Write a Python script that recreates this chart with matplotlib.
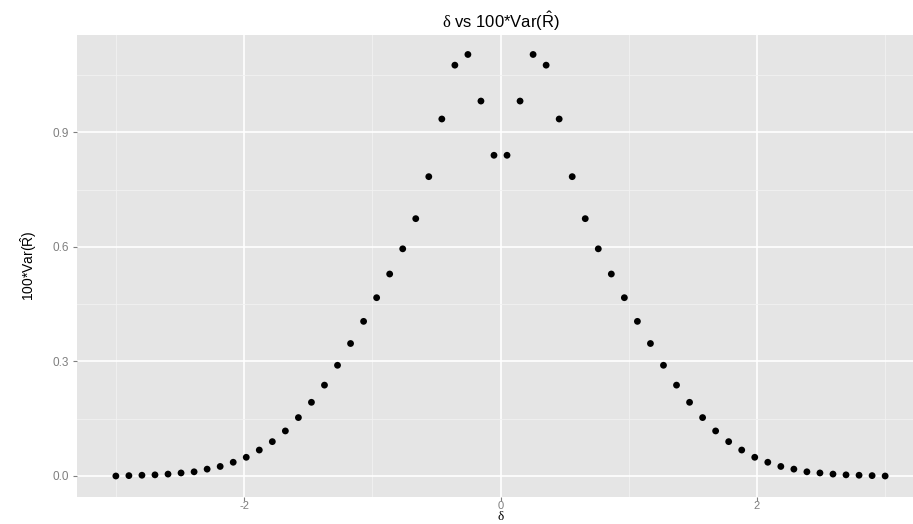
import matplotlib
matplotlib.use("Agg")
import matplotlib.pyplot as plt
import numpy as np

plt.rcParams['font.family'] = ['Liberation Sans', 'DejaVu Sans']
plt.rcParams['mathtext.fontset'] = 'custom'
plt.rcParams['mathtext.rm'] = 'Liberation Sans'
plt.rcParams['mathtext.it'] = 'Liberation Serif'
plt.rcParams['axes.unicode_minus'] = False

# delta grid: 60 points from -3 to 3
delta = np.linspace(-3, 3, 60)

# 100*Var(R hat)
var_left = [0.000, 0.001, 0.002, 0.003, 0.005, 0.008, 0.011, 0.018, 0.025, 0.036,
            0.049, 0.068, 0.090, 0.118, 0.153, 0.193, 0.238, 0.290, 0.347, 0.405,
            0.467, 0.529, 0.595, 0.674, 0.784, 0.935, 1.076, 1.104, 0.982, 0.840]
var_right = [0.840, 0.982, 1.104, 1.076, 0.935, 0.784, 0.674, 0.595, 0.529, 0.467,
             0.405, 0.347, 0.290, 0.238, 0.193, 0.153, 0.118, 0.090, 0.068, 0.049,
             0.036, 0.025, 0.018, 0.011, 0.008, 0.005, 0.003, 0.002, 0.001, 0.000]
var100 = np.array(var_left + var_right)

xticks = [-2, 0, 2]
xminor = [-3, -1, 1, 3]
yticks = [0.0, 0.3, 0.6, 0.9]
yminor = [0.15, 0.45, 0.75, 1.05]

fig = plt.figure(figsize=(9.13, 5.24), dpi=100)
# panel runs past the right edge, as in the reference
ax = fig.add_axes([77.4 / 913, 27 / 524, 846.2 / 913, 462 / 524])
ax.set_facecolor('#E5E5E5')
for s in ax.spines.values():
    s.set_visible(False)

ax.set_xlim(-3.3, 3.3)
ax.set_ylim(-0.055, 1.155)
ax.set_xticks(xticks)
ax.set_xticks(xminor, minor=True)
ax.set_yticks(yticks)
ax.set_yticks(yminor, minor=True)
ax.set_yticklabels(['0.0', '0.3', '0.6', '0.9'])
ax.grid(which='major', color='white', linewidth=1.2)
ax.grid(which='minor', color='#F2F2F2', linewidth=0.6)
ax.set_axisbelow(True)
ax.tick_params(which='major', colors='#7F7F7F', labelsize=8.5, length=3, width=0.8)
ax.tick_params(axis='x', which='major', labelsize=8, pad=0)
ax.tick_params(axis='y', which='major', pad=3)
ax.tick_params(which='minor', length=0)

ax.scatter(delta, var100, s=24, c='black', edgecolors='none', zorder=3)

xc = (500.5 - 77.4) / 846.2
ax.set_title(r'$\delta$ vs 100*Var($\hat{\mathrm{R}}$)', fontsize=12, pad=5, x=xc)
fig.text(500.5 / 913, 0.5 / 524, 'δ', family=['Liberation Serif', 'DejaVu Serif'],
         fontsize=9.5, ha='center', va='bottom')
ax.set_ylabel(r'100*Var($\hat{\mathrm{R}}$)', fontsize=10, labelpad=10)

fig.savefig('out.png', dpi=100)
